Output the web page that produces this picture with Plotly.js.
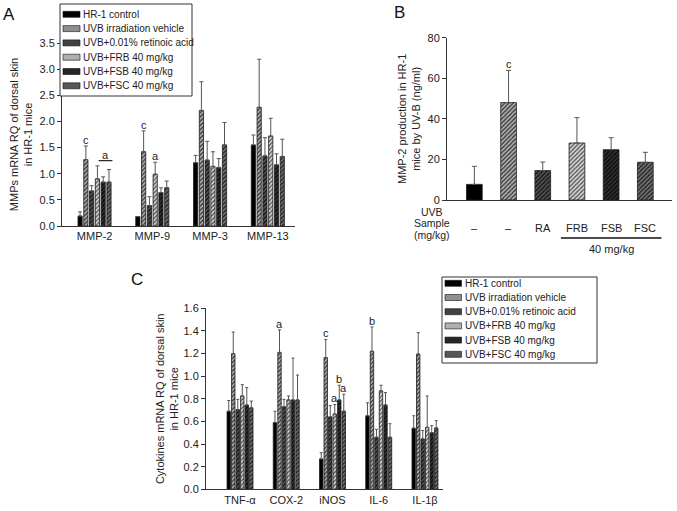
<!DOCTYPE html>
<html><head><meta charset="utf-8">
<script src="https://cdn.plot.ly/plotly-3.0.1.min.js"></script>
<style>html,body{margin:0;padding:0;background:#fff}#chart{width:677px;height:511px}</style>
</head><body><div id="chart"></div>
<script>
// ---------- DATA ----------
const seriesNames = ['HR-1 control','UVB irradiation vehicle','UVB+0.01% retinoic acid','UVB+FRB 40 mg/kg','UVB+FSB 40 mg/kg','UVB+FSC 40 mg/kg'];

// Panel A: MMPs mRNA RQ
const mmpCategories = ['MMP-2','MMP-9','MMP-3','MMP-13'];
const mmpControl = [0.19, 0.18, 1.21, 1.55];
const mmpVehicle = [1.27, 1.42, 2.21, 2.27];
const mmpRA      = [0.67, 0.39, 1.26, 1.34];
const mmpFRB     = [0.90, 0.99, 1.14, 1.72];
const mmpFSB     = [0.84, 0.64, 1.12, 1.17];
const mmpFSC     = [0.84, 0.73, 1.55, 1.33];
const mmpControlSD = [0.08, 0.00, 0.14, 0.19];
const mmpVehicleSD = [0.26, 0.40, 0.55, 0.92];
const mmpRASD      = [0.10, 0.17, 0.36, 0.35];
const mmpFRBSD     = [0.25, 0.23, 0.28, 0.34];
const mmpFSBSD     = [0.10, 0.09, 0.17, 0.21];
const mmpFSCSD     = [0.24, 0.13, 0.43, 0.33];
const mmpSigLetters = [[0,1,'c'],[1,1,'c'],[1,3,'a']];   // [category, series, letter]
const mmpBracket = {category:0, fromSeries:3, toSeries:5, y:1.25, letter:'a'};

// Panel B: MMP-2 production (ng/ml)
const prodGroups = ['Control','Vehicle','RA','FRB','FSB','FSC'];
const prodSampleLabels = ['\u2013','\u2013','RA','FRB','FSB','FSC'];
const prodValues = [7.7, 48.0, 14.5, 28.1, 24.8, 18.6];
const prodSD     = [8.9, 15.9, 4.2, 12.5, 5.9, 4.9];
const prodSigLetters = [[1,'c']];
const prodRowLabels = ['UVB','Sample','(mg/kg)'];
const prodDoseLabel = '40 mg/kg';

// Panel C: Cytokines mRNA RQ
const cytoCategories = ['TNF-\u03b1','COX-2','iNOS','IL-6','IL-1\u03b2'];
const cytoControl = [0.69, 0.59, 0.268, 0.65, 0.54];
const cytoVehicle = [1.20, 1.21, 1.165, 1.22, 1.195];
const cytoRA      = [0.705, 0.73, 0.64, 0.46, 0.445];
const cytoFRB     = [0.825, 0.79, 0.665, 0.87, 0.548];
const cytoFSB     = [0.745, 0.79, 0.79, 0.745, 0.50];
const cytoFSC     = [0.72, 0.79, 0.69, 0.46, 0.542];
const cytoControlSD = [0.095, 0.10, 0.055, 0.115, 0.11];
const cytoVehicleSD = [0.19, 0.20, 0.16, 0.215, 0.19];
const cytoRASD      = [0.09, 0.065, 0.10, 0.07, 0.075];
const cytoFRBSD     = [0.10, 0.035, 0.085, 0.05, 0.277];
const cytoFSBSD     = [0.155, 0.37, 0.13, 0.11, 0.063];
const cytoFSCSD     = [0.06, 0.22, 0.15, 0.12, 0.065];
const cytoSigLetters = [[1,1,'a'],[2,1,'c'],[2,3,'a'],[2,4,'b'],[2,5,'a'],[3,1,'b']];

// ---------- STYLE ----------
const FONT = 'Liberation Sans, Arial, Helvetica, sans-serif';
const W = 677, H = 511;
const px = v => v / W, py = v => 1 - v / H;
const barStyles = [
  {color:'#000000', shape:'',  fg:'#000000', swatch:'#000000'},
  {color:'#b4b4b4', shape:'/', fg:'#383838', swatch:'#8e8e8e'},
  {color:'#555555', shape:'/', fg:'#141414', swatch:'#414141'},
  {color:'#dadada', shape:'/', fg:'#555555', swatch:'#b0b0b0'},
  {color:'#333333', shape:'/', fg:'#0a0a0a', swatch:'#262626'},
  {color:'#777777', shape:'/', fg:'#202020', swatch:'#575757'}
];
function markerFor(i, size) {
  const st = barStyles[i];
  const m = {color: st.color, line:{color:'#1a1a1a', width:0.8}};
  if (st.shape) m.pattern = {shape: st.shape, fgcolor: st.fg, bgcolor: st.color, size: size, solidity: 0.45, fillmode:'replace'};
  return m;
}

const mmpSeries = [mmpControl, mmpVehicle, mmpRA, mmpFRB, mmpFSB, mmpFSC];
const mmpSDs = [mmpControlSD, mmpVehicleSD, mmpRASD, mmpFRBSD, mmpFSBSD, mmpFSCSD];
const cytoSeries = [cytoControl, cytoVehicle, cytoRA, cytoFRB, cytoFSB, cytoFSC];
const cytoSDs = [cytoControlSD, cytoVehicleSD, cytoRASD, cytoFRBSD, cytoFSBSD, cytoFSCSD];

const A_PITCH = 0.1, A_W = 0.073;
const C_PITCH = 0.0975, C_W = 0.074;
const traces = [];
mmpSeries.forEach((vals, i) => {
  traces.push({
    type:'bar', name: seriesNames[i], x: mmpCategories, y: vals, xaxis:'x', yaxis:'y',
    width: A_W, offset: (i - 2.5) * A_PITCH - A_W / 2, marker: markerFor(i, 3),
    error_y: {type:'data', symmetric:false, array: mmpSDs[i], arrayminus: mmpSDs[i].map(() => 0), color:'#555', thickness:1, width:2},
    showlegend:false
  });
});
prodGroups.forEach((g, i) => {
  traces.push({
    type:'bar', name: g, x: [g], y: [prodValues[i]], xaxis:'x2', yaxis:'y2',
    width: 0.46, offset: -0.23, marker: markerFor(i, 3),
    error_y: {type:'data', symmetric:false, array: [prodSD[i]], arrayminus: [0], color:'#555', thickness:1, width:2.5},
    showlegend:false
  });
});
cytoSeries.forEach((vals, i) => {
  traces.push({
    type:'bar', name: seriesNames[i], x: cytoCategories, y: vals, xaxis:'x3', yaxis:'y3',
    width: C_W, offset: (i - 2.5) * C_PITCH - C_W / 2, marker: markerFor(i, 3),
    error_y: {type:'data', symmetric:false, array: cytoSDs[i], arrayminus: cytoSDs[i].map(() => 0), color:'#555', thickness:1, width:1.5},
    showlegend:false
  });
});

// ---------- ANNOTATIONS & SHAPES ----------
const annotations = [];
const shapes = [];
const letterFont = {family: FONT, size: 11, color:'#222'};
mmpSigLetters.forEach(([c, s, t]) => {
  annotations.push({xref:'x', yref:'y', x: c + (s - 2.5) * A_PITCH, y: mmpSeries[s][c] + mmpSDs[s][c], text: t,
    showarrow:false, yanchor:'bottom', xanchor:'center', font: letterFont, yshift:-2});
});
{
  const b = mmpBracket;
  const x0 = b.category + (b.fromSeries - 2.5) * A_PITCH + 0.02;
  const x1 = b.category + (b.toSeries - 2.5) * A_PITCH + 0.06;
  shapes.push({type:'line', xref:'x', yref:'y', x0, x1, y0: b.y, y1: b.y, line:{color:'#222', width:1.2}});
  annotations.push({xref:'x', yref:'y', x:(x0 + x1) / 2, y: b.y, text: b.letter, showarrow:false, yanchor:'bottom', font: letterFont, yshift:-2});
}
prodSigLetters.forEach(([c, t]) => {
  annotations.push({xref:'x2', yref:'y2', x: c, y: prodValues[c] + prodSD[c], text: t, showarrow:false, yanchor:'bottom', font: letterFont, yshift:-2});
});
cytoSigLetters.forEach(([c, s, t]) => {
  annotations.push({xref:'x3', yref:'y3', x: c + (s - 2.5) * C_PITCH, y: cytoSeries[s][c] + cytoSDs[s][c], text: t,
    showarrow:false, yanchor:'bottom', xanchor:'center', font: letterFont, yshift:-2});
});
// Panel B sample rows
prodRowLabels.forEach((t, k) => {
  annotations.push({xref:'paper', yref:'paper', x: px(432), y: py(211.5 + 11.5 * k), text: t, showarrow:false, xanchor:'center', yanchor:'middle', font:{family:FONT, size:10.5, color:'#222'}});
});
prodSampleLabels.forEach((t, k) => {
  annotations.push({xref:'x2', yref:'paper', x: k, y: py(228), text: t, showarrow:false, xanchor:'center', yanchor:'middle', font:{family:FONT, size:11, color:'#222'}});
});
shapes.push({type:'line', xref:'x2', yref:'paper', x0: 3 - 0.47, x1: 5 + 0.47, y0: py(238), y1: py(238), line:{color:'#111', width:1.5}});
annotations.push({xref:'x2', yref:'paper', x: 4, y: py(249), text: prodDoseLabel, showarrow:false, xanchor:'center', yanchor:'middle', font:{family:FONT, size:11, color:'#222'}});

// Panel letters
[['A',9,14],['B',399,12],['C',137,279]].forEach(([t, x, y]) => {
  annotations.push({xref:'paper', yref:'paper', x: px(x), y: py(y), text: t, showarrow:false, xanchor:'center', yanchor:'middle', font:{family:FONT, size:17, color:'#111'}});
});

// Legend boxes (drawn keys)
function drawLegend(left, top, right, bottom, swL, swR, textX, row0, rowGap) {
  shapes.push({type:'rect', xref:'paper', yref:'paper', x0: px(left), x1: px(right), y0: py(top), y1: py(bottom), line:{color:'#333', width:1}, fillcolor:'#ffffff', layer:'above'});
  seriesNames.forEach((n, i) => {
    const yc = row0 + rowGap * i;
    shapes.push({type:'rect', xref:'paper', yref:'paper', x0: px(swL), x1: px(swR), y0: py(yc - 3), y1: py(yc + 3), line:{color:'#111', width:0.6}, fillcolor: barStyles[i].swatch, layer:'above'});
    annotations.push({xref:'paper', yref:'paper', x: px(textX), y: py(yc), text: n, showarrow:false, xanchor:'left', yanchor:'middle', font:{family:FONT, size:10, color:'#222'}});
  });
}
drawLegend(60, 4, 192, 96, 63, 80, 81, 14.3, 14.3);
drawLegend(442, 277, 597, 363, 445, 461.5, 462.5, 283.3, 14.2);

// ---------- LAYOUT ----------
const axisCommon = {showline:true, linecolor:'#333', linewidth:1, showgrid:false, zeroline:false, tickfont:{family:FONT, size:11, color:'#222'}};
const yCommon = Object.assign({}, axisCommon, {ticks:'outside', ticklen:4, tickcolor:'#333', tickwidth:1});
const xCommon = Object.assign({}, axisCommon, {ticks:'', type:'category'});
const layout = {
  width: W, height: H, margin:{l:0, r:0, t:0, b:0}, paper_bgcolor:'#ffffff', plot_bgcolor:'rgba(0,0,0,0)',
  barmode:'overlay', showlegend:false, font:{family:FONT, size:11, color:'#222'},
  xaxis: Object.assign({}, xCommon, {domain:[px(62), px(295)], anchor:'y', range:[-0.563, 3.47]}),
  yaxis: Object.assign({}, yCommon, {domain:[py(226), py(43)], anchor:'x', range:[0, 3.5], dtick:0.5, tickformat:'.1f',
    title:{text:'MMPs mRNA RQ of dorsal skin<br>in HR-1 mice', font:{family:FONT, size:11, color:'#222'}, standoff:4}}),
  xaxis2: Object.assign({}, xCommon, {domain:[px(447), px(672)], anchor:'y2', range:[-0.8, 5.78], showticklabels:false}),
  yaxis2: Object.assign({}, yCommon, {domain:[py(200), py(37.7)], anchor:'x2', range:[0, 80], dtick:20,
    title:{text:'MMP-2 production in HR-1<br>mice by UV-B (ng/ml)', font:{family:FONT, size:11, color:'#222'}, standoff:4}}),
  xaxis3: Object.assign({}, xCommon, {domain:[px(206), px(443)], anchor:'y3', range:[-0.736, 4.39]}),
  yaxis3: Object.assign({}, yCommon, {domain:[py(489.3), py(308.3)], anchor:'x3', range:[0, 1.6], dtick:0.2, tickformat:'.1f',
    title:{text:'Cytokines mRNA RQ of dorsal skin<br>in HR-1 mice', font:{family:FONT, size:11, color:'#222'}, standoff:2}}),
  annotations, shapes
};
Plotly.newPlot('chart', traces, layout, {staticPlot:true, displayModeBar:false});
</script></body></html>
